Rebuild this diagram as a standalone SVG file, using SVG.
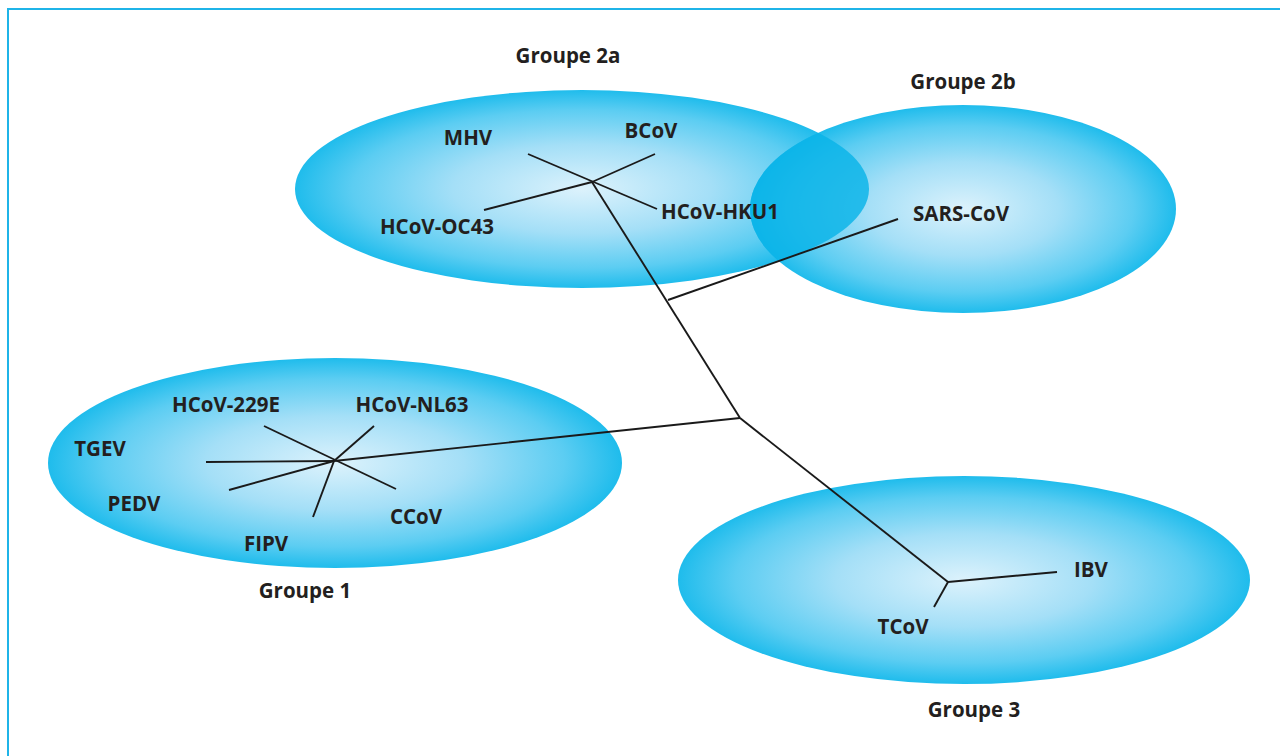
<svg xmlns="http://www.w3.org/2000/svg" width="1280" height="756" viewBox="0 0 1280 756">
  <style>
    .lbl { font-family: "Open Sans", "Liberation Sans", sans-serif; font-weight: bold; font-size: 20.5px; fill: #231f20; text-anchor: middle; }
    .edge { stroke: #1a1a1a; stroke-width: 1.9; fill: none; stroke-linecap: butt; }
    .frame { stroke: #1fb4e8; stroke-width: 2; fill: none; }
  </style>
  <defs>
    <radialGradient id="blob" cx="50%" cy="50%" r="50%">
      <stop offset="0" stop-color="#dcf2fc"/>
      <stop offset="0.45" stop-color="#a4dff7"/>
      <stop offset="0.8" stop-color="#5ccdf2"/>
      <stop offset="1" stop-color="#1fbcec"/>
    </radialGradient>
    <clipPath id="clip2b">
      <ellipse cx="963" cy="209" rx="213" ry="104"/>
    </clipPath>
  </defs>

  <rect width="1280" height="756" fill="#ffffff"/>
  <!-- frame: top and left rules only -->
  <path class="frame" d="M8 756 V9 H1280"/>

  <!-- group areas -->
  <g id="group-2a">
    <ellipse cx="582" cy="189" rx="287" ry="99" fill="url(#blob)"/>
    <text class="lbl" x="568" y="63">Groupe 2a</text>
  </g>
  <g id="group-2b">
    <ellipse cx="963" cy="209" rx="213" ry="104" fill="url(#blob)"/>
    <!-- shared zone of 2a and 2b -->
    <ellipse cx="582" cy="189" rx="287" ry="99" fill="#08b3e8" opacity="0.82" clip-path="url(#clip2b)"/>
    <text class="lbl" x="963" y="89">Groupe 2b</text>
  </g>
  <g id="group-1">
    <ellipse cx="335" cy="463" rx="287" ry="105" fill="url(#blob)"/>
    <text class="lbl" x="305" y="598">Groupe 1</text>
  </g>
  <g id="group-3">
    <ellipse cx="964" cy="580" rx="286" ry="104" fill="url(#blob)"/>
    <text class="lbl" x="974" y="717">Groupe 3</text>
  </g>

  <!-- tree branches -->
  <g id="connectors">
    <!-- group 2a cluster -->
    <line class="edge" x1="528" y1="154" x2="657" y2="209"/>
    <line class="edge" x1="484" y1="210" x2="592" y2="182"/>
    <line class="edge" x1="592" y1="182" x2="655" y2="154"/>
    <!-- trunk -->
    <line class="edge" x1="592" y1="182" x2="740" y2="418"/>
    <line class="edge" x1="668" y1="300" x2="898" y2="219"/>
    <line class="edge" x1="740" y1="418" x2="334" y2="461"/>
    <line class="edge" x1="740" y1="418" x2="948" y2="582"/>
    <!-- group 3 -->
    <line class="edge" x1="948" y1="582" x2="1057" y2="572"/>
    <line class="edge" x1="948" y1="582" x2="934" y2="607"/>
    <!-- group 1 star -->
    <line class="edge" x1="264" y1="426" x2="396" y2="489"/>
    <line class="edge" x1="374" y1="426" x2="334" y2="461"/>
    <line class="edge" x1="206" y1="462" x2="334" y2="461"/>
    <line class="edge" x1="229" y1="490" x2="334" y2="461"/>
    <line class="edge" x1="313" y1="517" x2="334" y2="461"/>
  </g>

  <!-- virus labels -->
  <g id="labels">
    <text class="lbl" x="468" y="145">MHV</text>
    <text class="lbl" x="651" y="138">BCoV</text>
    <text class="lbl" x="437" y="234">HCoV-OC43</text>
    <text class="lbl" x="720" y="219">HCoV-HKU1</text>
    <text class="lbl" x="961" y="221">SARS-CoV</text>
    <text class="lbl" x="226" y="412">HCoV-229E</text>
    <text class="lbl" x="412" y="412">HCoV-NL63</text>
    <text class="lbl" x="100" y="456">TGEV</text>
    <text class="lbl" x="134" y="511">PEDV</text>
    <text class="lbl" x="266" y="551">FIPV</text>
    <text class="lbl" x="416" y="524">CCoV</text>
    <text class="lbl" x="1091" y="577">IBV</text>
    <text class="lbl" x="903" y="634">TCoV</text>
  </g>
</svg>
